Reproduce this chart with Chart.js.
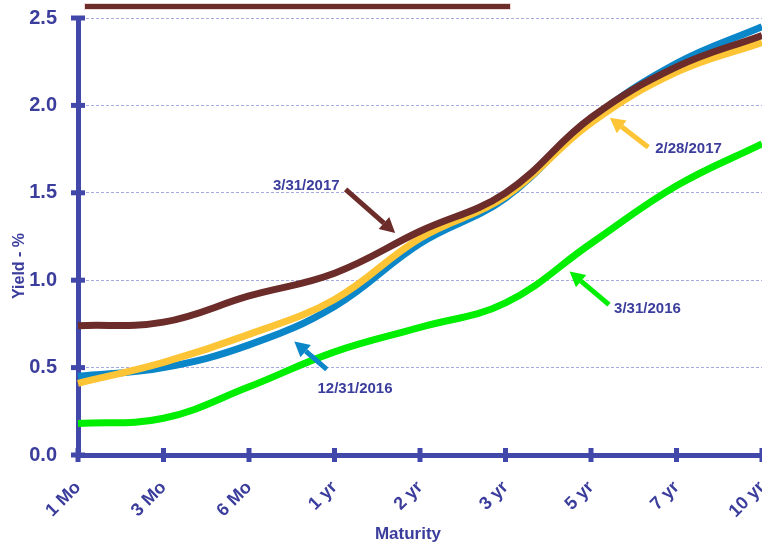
<!DOCTYPE html>
<html>
<head>
<meta charset="utf-8">
<script src="https://cdn.jsdelivr.net/npm/chart.js@4.4.1/dist/chart.umd.min.js"></script>
<style>
  html, body { margin: 0; padding: 0; background: #fff; }
  #wrap { width: 762px; height: 545px; }
</style>
</head>
<body>
<div id="wrap"><canvas id="yieldChart" width="762" height="545"></canvas></div>
<script>
const maturities = ['1 Mo', '3 Mo', '6 Mo', '1 yr', '2 yr', '3 yr', '5 yr', '7 yr', '10 yr'];
const yieldTicks = [0, 0.5, 1.0, 1.5, 2.0, 2.5];

const mar2017 = [0.74, 0.76, 0.91, 1.04, 1.28, 1.50, 1.93, 2.22, 2.40];
const feb2017 = [0.41, 0.53, 0.69, 0.89, 1.24, 1.48, 1.90, 2.19, 2.36];
const dec2016 = [0.45, 0.50, 0.63, 0.85, 1.21, 1.47, 1.92, 2.24, 2.45];
const mar2016 = [0.18, 0.21, 0.39, 0.59, 0.73, 0.87, 1.21, 1.54, 1.78];

const TEXT = '#3b3d9c';
const AXIS = '#4248a9';
const FONT = '"Liberation Sans", Arial, sans-serif';

// callouts, given in data coordinates (x = category index)
const callouts = [
    { text: '3/31/2017', color: '#6b2c2a', tail: [3.13, 1.52], tip: [3.71, 1.27], label: [3.06, 1.54], align: 'right' },
    { text: '2/28/2017', color: '#fdc535', tail: [6.67, 1.76], tip: [6.22, 1.93], label: [6.75, 1.75], align: 'left' },
    { text: '12/31/2016', color: '#0a86c9', tail: [2.91, 0.49], tip: [2.53, 0.65], label: [3.24, 0.38], align: 'center' },
    { text: '3/31/2016', color: '#00ee00', tail: [6.21, 0.86], tip: [5.75, 1.05], label: [6.27, 0.835], align: 'left' }
];

const axisDecor = {
    id: 'axisDecor',
    beforeDatasetsDraw(chart) {
        const { ctx, scales: { x, y } } = chart;
        ctx.save();
        ctx.fillStyle = AXIS;
        y.ticks.forEach((t, i) => {
            const py = y.getPixelForTick(i);
            ctx.fillRect(x.left - 7, py - 2.5, 14, 5);
        });
        x.ticks.forEach((t, i) => {
            const px = x.getPixelForTick(i);
            ctx.fillRect(px - 2.5, y.bottom - 7, 5, 14);
        });
        // brown bar at the top
        ctx.fillStyle = '#ecd8d7';
        ctx.fillRect(84, 3, 427, 7);
        ctx.fillStyle = '#6b2c2a';
        ctx.fillRect(85, 4, 425, 5);

        // axis titles
        ctx.fillStyle = TEXT;
        ctx.textAlign = 'center';
        ctx.textBaseline = 'middle';
        ctx.font = 'bold 17px ' + FONT;
        ctx.fillText('Maturity', 408, 534);
        ctx.translate(20, 266);
        ctx.rotate(-Math.PI / 2);
        ctx.font = 'bold 16px ' + FONT;
        ctx.fillText('Yield - %', 0, 0);
        ctx.restore();
    },
    afterDatasetsDraw(chart) {
        const { ctx, scales: { x, y } } = chart;
        ctx.save();
        callouts.forEach(c => {
            const x1 = x.getPixelForValue(c.tail[0]), y1 = y.getPixelForValue(c.tail[1]);
            const x2 = x.getPixelForValue(c.tip[0]), y2 = y.getPixelForValue(c.tip[1]);
            const ang = Math.atan2(y2 - y1, x2 - x1);
            const head = 15;
            const bx = x2 - Math.cos(ang) * head, by = y2 - Math.sin(ang) * head;
            ctx.strokeStyle = c.color;
            ctx.fillStyle = c.color;
            ctx.lineWidth = 5;
            ctx.beginPath();
            ctx.moveTo(x1, y1);
            ctx.lineTo(bx, by);
            ctx.stroke();
            ctx.beginPath();
            ctx.moveTo(x2, y2);
            ctx.lineTo(bx + Math.cos(ang + Math.PI / 2) * 8, by + Math.sin(ang + Math.PI / 2) * 8);
            ctx.lineTo(bx + Math.cos(ang - Math.PI / 2) * 8, by + Math.sin(ang - Math.PI / 2) * 8);
            ctx.closePath();
            ctx.fill();

            ctx.fillStyle = TEXT;
            ctx.font = 'bold 15px ' + FONT;
            ctx.textAlign = c.align;
            ctx.textBaseline = 'middle';
            ctx.fillText(c.text, x.getPixelForValue(c.label[0]), y.getPixelForValue(c.label[1]));
        });
        ctx.restore();
    }
};

const line = (label, data, color) => ({
    label, data,
    borderColor: color,
    borderWidth: 7,
    pointRadius: 0,
    tension: 0.4,
    fill: false
});

new Chart(document.getElementById('yieldChart'), {
    type: 'line',
    data: {
        labels: maturities,
        datasets: [
            line('3/31/2017', mar2017, '#6b2c2a'),
            line('2/28/2017', feb2017, '#fdc535'),
            line('12/31/2016', dec2016, '#0a86c9'),
            line('3/31/2016', mar2016, '#00ee00')
        ]
    },
    options: {
        responsive: false,
        animation: false,
        layout: { padding: { top: 18, right: 0, left: 0, bottom: 0 } },
        plugins: { legend: { display: false }, tooltip: { enabled: false } },
        scales: {
            x: {
                offset: false,
                afterFit: s => { s.height = 90; s.paddingLeft = 0; s.paddingRight = 0; },
                border: { display: true, color: AXIS, width: 5 },
                grid: { display: false, drawTicks: false },
                ticks: {
                    minRotation: 45, maxRotation: 45, padding: 22,
                    color: TEXT,
                    font: { family: FONT, size: 18, weight: 'bold' }
                }
            },
            y: {
                min: 0, max: 2.5,
                afterFit: s => { s.width = 78; s.paddingTop = 0; s.paddingBottom = 0; },
                afterBuildTicks: s => { s.ticks = yieldTicks.map(v => ({ value: v })); },
                border: { display: true, color: AXIS, width: 5, dash: [3, 2] },
                grid: { color: '#a8abe2', lineWidth: 1, drawTicks: false },
                ticks: {
                    padding: 21,
                    color: TEXT,
                    callback: v => v.toFixed(1),
                    font: { family: FONT, size: 20, weight: 'bold' }
                }
            }
        }
    },
    plugins: [axisDecor]
});
</script>
</body>
</html>
